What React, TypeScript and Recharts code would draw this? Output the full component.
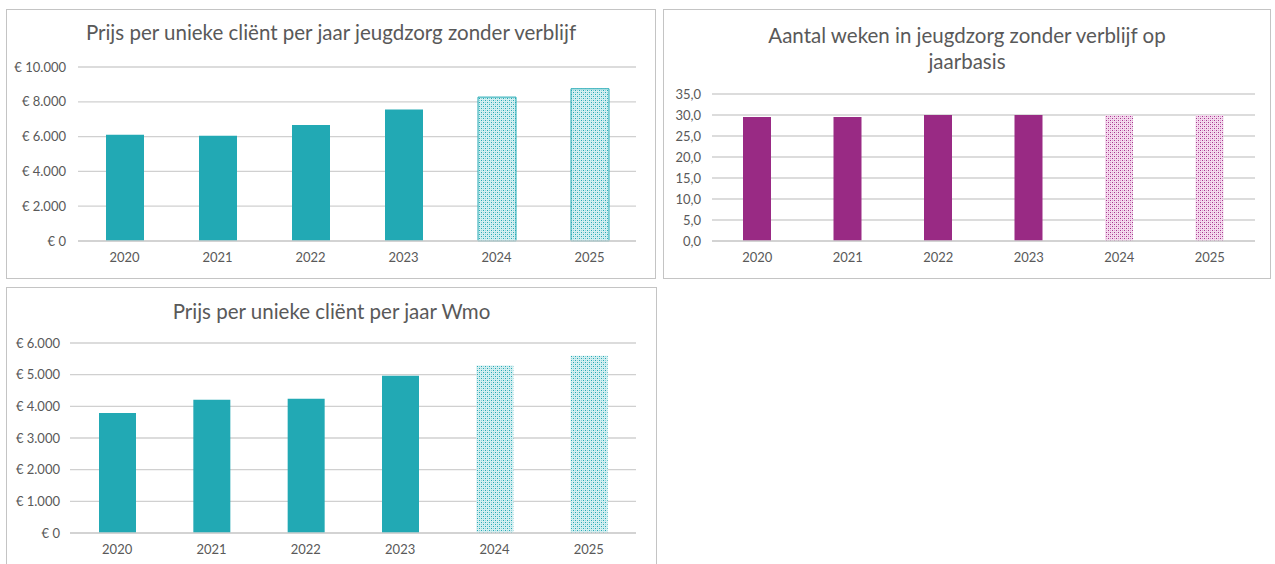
import React from 'react'
import { BarChart, Bar, XAxis, YAxis, CartesianGrid, Cell } from 'recharts'

const years = ['2020', '2021', '2022', '2023', '2024', '2025']
const forecastYears = ['2024', '2025']

const prijsJeugdzorg = [6100, 6050, 6660, 7560, 8270, 8750]
const wekenJeugdzorg = [29.5, 29.5, 30.0, 30.0, 30.0, 30.0]
const prijsWmo = [3790, 4210, 4240, 4965, 5290, 5600]

const ticksJeugdzorg = [0, 2000, 4000, 6000, 8000, 10000]
const ticksWeken = [0, 5, 10, 15, 20, 25, 30, 35]
const ticksWmo = [0, 1000, 2000, 3000, 4000, 5000, 6000]

const TEAL = '#22a9b4'
const PURPLE = '#992a84'
const GRID = '#d0d0d0'
const TEXT = '#595959'
const FONT = 'Lato, "Open Sans", sans-serif'

const euro = (v: number) => '€ ' + String(v).replace(/\B(?=(\d{3})+(?!\d))/g, '.')
const komma = (v: number) => v.toFixed(1).replace('.', ',')

const toRows = (vals: number[]) => years.map((year, i) => ({ year, value: vals[i] }))

const tickStyle = { fontSize: 13, fontFamily: FONT, fill: TEXT }

function Patterns() {
  return (
    <defs>
      <pattern id="dotsTeal" width="4" height="4" patternUnits="userSpaceOnUse">
        <rect width="4" height="4" fill="#d4eff1" />
        <rect x="0" y="0" width="1" height="1" fill={TEAL} />
        <rect x="2" y="2" width="1" height="1" fill={TEAL} />
        <rect x="2" y="0" width="1" height="1" fill="#8fd2d8" />
        <rect x="0" y="2" width="1" height="1" fill="#8fd2d8" />
      </pattern>
      <pattern id="dotsPurple" width="4" height="4" patternUnits="userSpaceOnUse">
        <rect width="4" height="4" fill="#f4dbee" />
        <rect x="0" y="0" width="1" height="1" fill="#a8338f" />
        <rect x="2" y="2" width="1" height="1" fill="#a8338f" />
        <rect x="2" y="0" width="1" height="1" fill="#d9a0cc" />
        <rect x="0" y="2" width="1" height="1" fill="#d9a0cc" />
      </pattern>
    </defs>
  )
}

type PanelProps = {
  left: number
  top: number
  width: number
  height: number
  title: React.ReactNode
  titleTop: number
  values: number[]
  ticks: number[]
  format: (v: number) => string
  color: string
  pattern: string
  outline: boolean
  yWidth: number
  tickGap: number
  marginTop: number
  marginRight: number
  xHeight: number
  barSize: number
}

function Panel(p: PanelProps) {
  const data = toRows(p.values)
  return (
    <div
      style={{
        position: 'absolute',
        left: p.left,
        top: p.top,
        width: p.width,
        height: p.height,
        border: '1px solid #c4c4c4',
        boxSizing: 'border-box',
        background: '#fff',
      }}
    >
      <div
        style={{
          position: 'absolute',
          left: 0,
          right: 0,
          top: p.titleTop,
          textAlign: 'center',
          fontFamily: FONT,
          fontSize: 20.5,
          lineHeight: '26px',
          color: TEXT,
        }}
      >
        {p.title}
      </div>
      <BarChart
        width={p.width - 2}
        height={p.height - 2}
        data={data}
        margin={{ top: p.marginTop, right: p.marginRight, left: 0, bottom: 0 }}
        style={{ position: 'absolute', left: 0, top: 0 }}
      >
        <Patterns />
        <CartesianGrid vertical={false} stroke={GRID} strokeWidth={1.3} />
        <XAxis
          dataKey="year"
          tick={tickStyle}
          tickLine={false}
          tickSize={0}
          tickMargin={12}
          axisLine={{ stroke: GRID, strokeWidth: 1.3 }}
          height={p.xHeight}
        />
        <YAxis
          domain={[p.ticks[0], p.ticks[p.ticks.length - 1]]}
          ticks={p.ticks}
          tickFormatter={p.format}
          tick={tickStyle}
          tickLine={false}
          axisLine={false}
          tickSize={0}
          tickMargin={p.tickGap}
          width={p.yWidth}
          interval={0}
        />
        <Bar dataKey="value" barSize={p.barSize} isAnimationActive={false}>
          {data.map((d) => {
            const forecast = forecastYears.includes(d.year)
            return (
              <Cell
                key={d.year}
                fill={forecast ? `url(#${p.pattern})` : p.color}
                stroke={forecast && p.outline ? p.color : 'none'}
                strokeWidth={forecast && p.outline ? 1 : 0}
              />
            )
          })}
        </Bar>
      </BarChart>
    </div>
  )
}

export default function App() {
  return (
    <div style={{ position: 'absolute', left: 0, top: 0, width: 1275, height: 564, background: '#fff', overflow: 'hidden' }}>
      <Panel
        left={6}
        top={9}
        width={650}
        height={270}
        title="Prijs per unieke cliënt per jaar jeugdzorg zonder verblijf"
        titleTop={9}
        values={prijsJeugdzorg}
        ticks={ticksJeugdzorg}
        format={euro}
        color={TEAL}
        pattern="dotsTeal"
        outline={true}
        yWidth={71}
        tickGap={12}
        marginTop={57}
        marginRight={19}
        xHeight={37}
        barSize={38}
      />
      <Panel
        left={663}
        top={9}
        width={608}
        height={270}
        title={
          <>
            Aantal weken in jeugdzorg zonder verblijf op
            <br />
            jaarbasis
          </>
        }
        titleTop={12}
        values={wekenJeugdzorg}
        ticks={ticksWeken}
        format={komma}
        color={PURPLE}
        pattern="dotsPurple"
        outline={false}
        yWidth={48}
        tickGap={11}
        marginTop={84}
        marginRight={15}
        xHeight={37}
        barSize={28}
      />
      <Panel
        left={6}
        top={287}
        width={651}
        height={285}
        title="Prijs per unieke cliënt per jaar Wmo"
        titleTop={10}
        values={prijsWmo}
        ticks={ticksWmo}
        format={euro}
        color={TEAL}
        pattern="dotsTeal"
        outline={false}
        yWidth={63}
        tickGap={10}
        marginTop={55}
        marginRight={20}
        xHeight={38}
        barSize={37}
      />
    </div>
  )
}
